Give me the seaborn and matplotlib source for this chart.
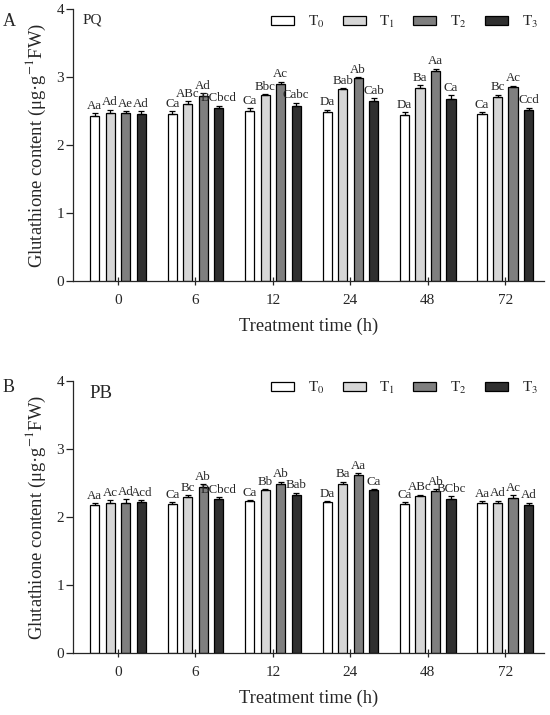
import numpy as np
import pandas as pd
import matplotlib
matplotlib.use("Agg")
import matplotlib.pyplot as plt
import seaborn as sns
from matplotlib.patches import Patch
from matplotlib.container import BarContainer

# ---- data ----
times = ["0", "6", "12", "24", "48", "72"]
treatments = ["T0", "T1", "T2", "T3"]
legend_labels = ["T$_0$", "T$_1$", "T$_2$", "T$_3$"]

pq_T0 = [2.43, 2.46, 2.50, 2.48, 2.44, 2.46]
pq_T1 = [2.47, 2.61, 2.73, 2.82, 2.84, 2.70]
pq_T2 = [2.47, 2.72, 2.89, 2.98, 3.09, 2.85]
pq_T3 = [2.45, 2.54, 2.58, 2.65, 2.68, 2.52]
pq_err_T0 = [0.04, 0.04, 0.04, 0.04, 0.04, 0.02]
pq_err_T1 = [0.05, 0.03, 0.02, 0.02, 0.04, 0.04]
pq_err_T2 = [0.03, 0.04, 0.04, 0.02, 0.03, 0.02]
pq_err_T3 = [0.05, 0.04, 0.04, 0.04, 0.05, 0.03]
pq_lab_T0 = ["Aa", "Ca", "Ca", "Da", "Da", "Ca"]
pq_lab_T1 = ["Ad", "ABc", "Bbc", "Bab", "Ba", "Bc"]
pq_lab_T2 = ["Ae", "Ad", "Ac", "Ab", "Aa", "Ac"]
pq_lab_T3 = ["Ad", "BCbcd", "Cabc", "Cab", "Ca", "Ccd"]

pb_T0 = [2.17, 2.19, 2.23, 2.22, 2.19, 2.21]
pb_T1 = [2.21, 2.30, 2.39, 2.49, 2.31, 2.21]
pb_T2 = [2.21, 2.44, 2.48, 2.62, 2.38, 2.28]
pb_T3 = [2.22, 2.26, 2.33, 2.39, 2.27, 2.17]
pb_err_T0 = [0.03, 0.03, 0.02, 0.01, 0.03, 0.02]
pb_err_T1 = [0.04, 0.02, 0.02, 0.03, 0.02, 0.03]
pb_err_T2 = [0.05, 0.04, 0.04, 0.02, 0.03, 0.04]
pb_err_T3 = [0.03, 0.03, 0.03, 0.02, 0.04, 0.04]
pb_lab_T0 = ["Aa", "Ca", "Ca", "Da", "Ca", "Aa"]
pb_lab_T1 = ["Ac", "Bc", "Bb", "Ba", "ABc", "Ad"]
pb_lab_T2 = ["Ad", "Ab", "Ab", "Aa", "Ab", "Ac"]
pb_lab_T3 = ["Acd", "BCbcd", "Bab", "Ca", "BCbc", "Ad"]

colors = ["#ffffff", "#d6d6d6", "#7f7f7f", "#303030"]

sns.set_theme(style="ticks")
plt.rcParams["font.family"] = ["Liberation Serif", "DejaVu Serif"]
plt.rcParams["mathtext.fontset"] = "stix"

fig = plt.figure(figsize=(5.5, 7.15), dpi=100)
L, R = 73, 544
axA = fig.add_axes([L / 550, 1 - 281 / 715, (R - L) / 550, (281 - 9) / 715])
axB = fig.add_axes([L / 550, 1 - 653 / 715, (R - L) / 550, (653 - 381) / 715])


def panel(ax, vals, errs, labs, name, name_x, name_fs, panel_letter, letter_y, leg_y):
    rows = []
    for ti, t in enumerate(treatments):
        for xi, tm in enumerate(times):
            rows.append({"time": tm, "treat": t, "value": vals[ti][xi]})
    df = pd.DataFrame(rows)
    sns.barplot(data=df, x="time", y="value", hue="treat", order=times,
                hue_order=treatments, palette=colors, edgecolor="black",
                linewidth=0.9, width=0.8, gap=0.41, errorbar=None,
                legend=False, ax=ax, saturation=1)
    bar_conts = [c for c in ax.containers if isinstance(c, BarContainer)]
    for ti, cont in enumerate(bar_conts):
        for xi, bar in enumerate(cont.patches):
            xc = bar.get_x() + bar.get_width() / 2
            h = bar.get_height()
            e = errs[ti][xi]
            ax.errorbar([xc], [h], yerr=[[0], [e]], fmt="none", ecolor="black",
                        elinewidth=0.9, capsize=2.5, capthick=0.9)
            ax.text(xc, h + e + 0.02, labs[ti][xi], ha="center", va="bottom",
                    fontsize=9.3)
    ax.set_ylim(0, 4)
    ax.set_xlim(-0.58, 5.5)
    ax.set_yticks([0, 1, 2, 3, 4])
    ax.set_xlabel("Treatment time (h)", fontsize=13.3, labelpad=8)
    ax.set_ylabel("Glutathione content (μg·g$^{-1}$FW)", fontsize=13.4, labelpad=6)
    ax.tick_params(axis="x", direction="inout", length=6, width=0.9, labelsize=11, pad=6)
    ax.tick_params(axis="y", direction="out", length=5, width=0.9, labelsize=11, pad=1.5)
    for s in ["top", "right"]:
        ax.spines[s].set_visible(False)
    for s in ["left", "bottom"]:
        ax.spines[s].set_linewidth(0.9)
    ax.text((name_x - L) / (R - L), 0.985, name, transform=ax.transAxes,
            ha="left", va="top", fontsize=name_fs)
    fig.text(3 / 550, letter_y, panel_letter, ha="left", va="center", fontsize=13)
    handles = [Patch(facecolor=c, edgecolor="black", linewidth=0.9) for c in colors]
    ax.legend(handles, legend_labels, loc="center right", ncol=4, frameon=False,
              fontsize=11, handlelength=1.5, handleheight=0.45, columnspacing=1.2,
              handletextpad=0.9, bbox_to_anchor=(1.0, leg_y), borderaxespad=0)


panel(axA, [pq_T0, pq_T1, pq_T2, pq_T3], [pq_err_T0, pq_err_T1, pq_err_T2, pq_err_T3],
      [pq_lab_T0, pq_lab_T1, pq_lab_T2, pq_lab_T3], "PQ", 83, 11, "A",
      1 - 22 / 715, (281 - 22) / 272)
panel(axB, [pb_T0, pb_T1, pb_T2, pb_T3], [pb_err_T0, pb_err_T1, pb_err_T2, pb_err_T3],
      [pb_lab_T0, pb_lab_T1, pb_lab_T2, pb_lab_T3], "PB", 89, 13.5, "B",
      1 - 388 / 715, (653 - 388) / 272)

fig.savefig("out.png", dpi=100)
